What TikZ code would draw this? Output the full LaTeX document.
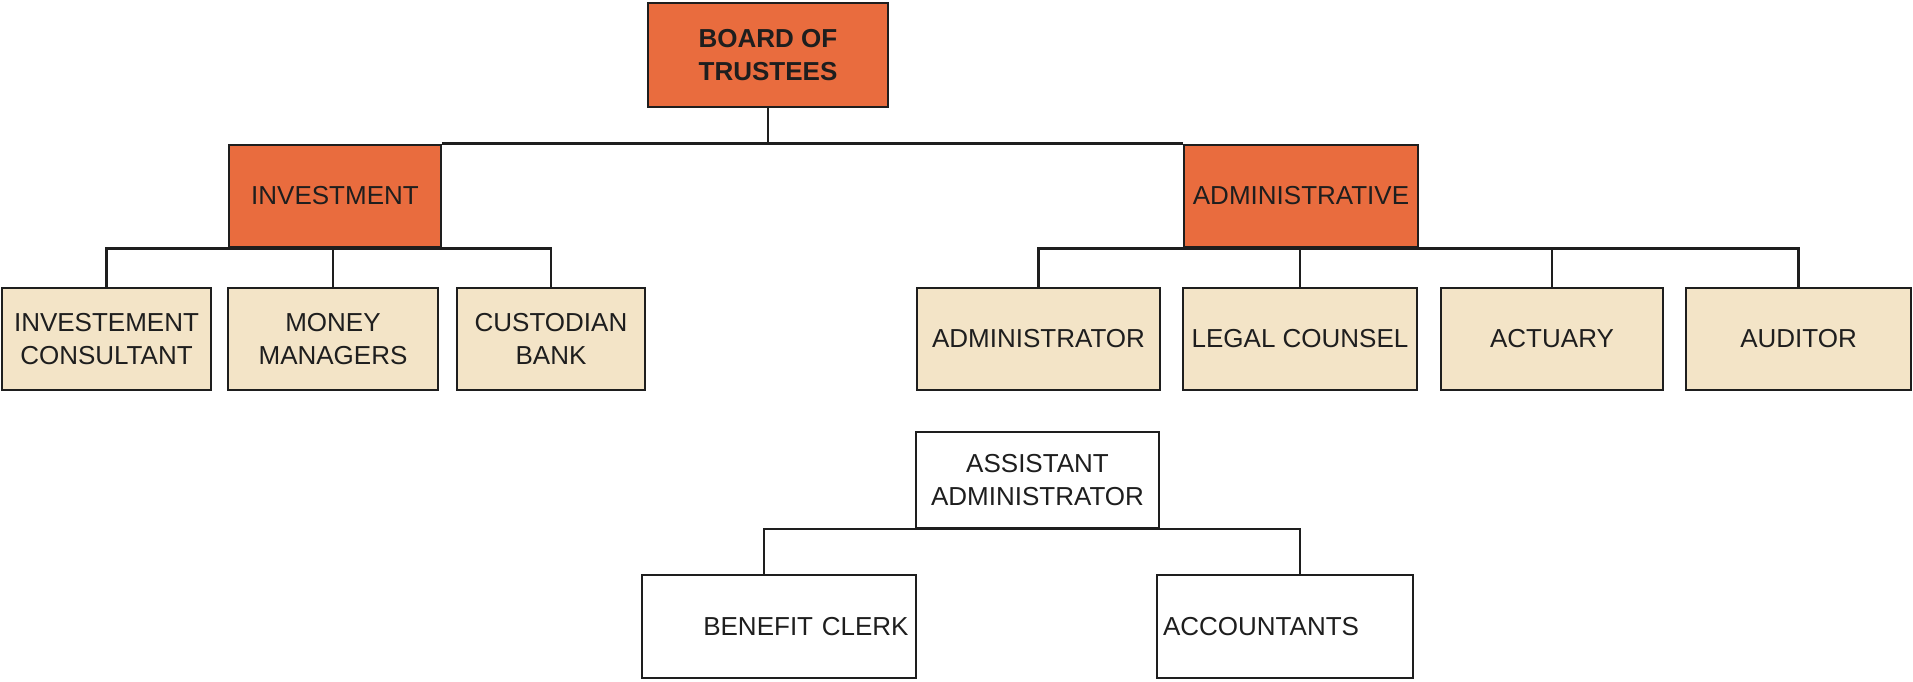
\documentclass[tikz,border=0pt]{standalone}
\usepackage{fontspec}
\setmainfont{Liberation Sans}
\usepackage{tikz}

\definecolor{boardorange}{RGB}{233,108,62}
\definecolor{staffbeige}{RGB}{243,228,199}
\definecolor{inkgray}{RGB}{30,30,30}

\begin{document}
\begin{tikzpicture}[x=0.02cm, y=-0.02cm,
	every node/.style={font=\fontsize{14.8}{18.8}\selectfont, text=inkgray},
	headbox/.style={draw=inkgray, line width=1.5pt, fill=boardorange, align=center, inner sep=0pt, minimum height=2.04cm},
	staffbox/.style={draw=inkgray, line width=1.5pt, fill=staffbeige, align=center, inner sep=0pt, minimum height=2.04cm},
	plainbox/.style={draw=inkgray, line width=1.2pt, fill=white, inner sep=0pt, minimum height=2.06cm},
	link/.style={draw=inkgray, line width=1.5pt}]
			
			% Picture frame (pixel units, y downwards)
			\useasboundingbox (0,0) rectangle (1913,681);
			
			% Top of the chart
			\node[headbox, minimum width=4.8cm, minimum height=2.08cm, font=\fontsize{14.8}{18.8}\selectfont\bfseries] (board) at (768,55) {BOARD OF\\TRUSTEES};
			
			% Second row
			\node[headbox, minimum width=4.24cm] (invest) at (335,196) {INVESTMENT};
			\node[headbox, minimum width=4.68cm] (admin) at (1301,196) {ADMINISTRATIVE};
			
			% Investment side
			\node[staffbox, minimum width=4.18cm] (consult) at (106.5,339) {INVESTEMENT\\CONSULTANT};
			\node[staffbox, minimum width=4.2cm] (money) at (333,339) {MONEY\\MANAGERS};
			\node[staffbox, minimum width=3.76cm] (bank) at (551,339) {CUSTODIAN\\BANK};
			
			% Administrative side
			\node[staffbox, minimum width=4.86cm] (adminr) at (1038.5,339) {ADMINISTRATOR};
			\node[staffbox, minimum width=4.68cm] (legal) at (1300,339) {LEGAL COUNSEL};
			\node[staffbox, minimum width=4.44cm] (actuary) at (1552,339) {ACTUARY};
			\node[staffbox, minimum width=4.5cm] (auditor) at (1798.5,339) {AUDITOR};
			
			% Office staff
			\node[plainbox, minimum width=4.86cm, minimum height=1.92cm, align=center] (assist) at (1037.5,480) {ASSISTANT\\ADMINISTRATOR};
			\node[plainbox, minimum width=5.48cm, inner xsep=0.15cm, text width=5.18cm, align=right] (clerk) at (779,626.5) {BENEFIT CLERK};
			\node[plainbox, minimum width=5.12cm, inner xsep=0.12cm, text width=4.88cm, align=left] (account) at (1285,626.5) {ACCOUNTANTS};
			
			% Connectors
			\draw[link] (board.south) -- (board.south |- invest.north);
			\draw[link] (invest.north east) -- (admin.north west);
			
			\draw[link] (consult.north) |- (invest.south) -| (bank.north);
			\draw[link] (money.north) -- (money.north |- invest.south);
			
			\draw[link] (adminr.north) |- (admin.south) -| (auditor.north);
			\foreach \sub in {legal, actuary}
				\draw[link] (\sub.north) -- (\sub.north |- admin.south);
			
			\draw[link, line width=1.2pt] ([xshift=-0.3cm]clerk.north) |- (assist.south) -| ([xshift=0.3cm]account.north);
			
		\end{tikzpicture}
\end{document}
